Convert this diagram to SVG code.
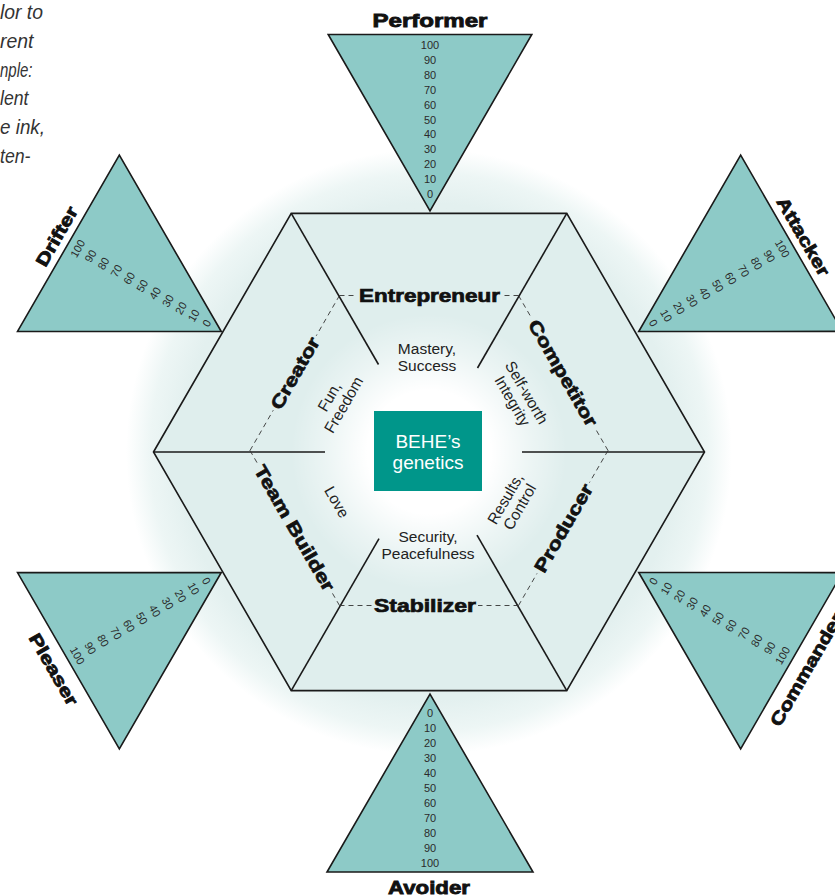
<svg xmlns="http://www.w3.org/2000/svg" width="835" height="896" viewBox="0 0 835 896">
  <defs>
    <radialGradient id="halo" cx="429" cy="452" r="303" gradientUnits="userSpaceOnUse">
      <stop offset="0" stop-color="#e1efee"/>
      <stop offset="0.82" stop-color="#e3f0ef"/>
      <stop offset="0.92" stop-color="#edf6f5"/>
      <stop offset="1" stop-color="#ffffff"/>
    </radialGradient>
    <radialGradient id="core" cx="429" cy="452" r="138" gradientUnits="userSpaceOnUse">
      <stop offset="0" stop-color="#ffffff" stop-opacity="1"/>
      <stop offset="0.45" stop-color="#ffffff" stop-opacity="1"/>
      <stop offset="0.75" stop-color="#ffffff" stop-opacity="0.4"/>
      <stop offset="1" stop-color="#ffffff" stop-opacity="0"/>
    </radialGradient>
  </defs>
  <style>
    .tri { fill:#8dcac7; stroke:#1a1a1a; stroke-width:1.6; stroke-linejoin:miter; }
    .num { font-family:"Liberation Sans", Arial, sans-serif; font-size:11px; fill:#2b2b2b; text-anchor:middle; }
    .tlabel { font-family:"Liberation Sans", Arial, sans-serif; font-weight:bold; font-size:17.5px; fill:#111; stroke:#111; stroke-width:0.8; text-anchor:middle; }
    .role { font-family:"Liberation Sans", Arial, sans-serif; font-weight:bold; font-size:18px; fill:#111; stroke:#111; stroke-width:0.7; text-anchor:middle; }
    .val { font-family:"Liberation Sans", Arial, sans-serif; font-size:15.5px; fill:#222; text-anchor:middle; }
    .edge { fill:none; stroke:#1a1a1a; stroke-width:1.6; }
    .dash { fill:none; stroke:#333; stroke-width:0.9; stroke-dasharray:5 4; }
    .note { font-family:"Liberation Sans", Arial, sans-serif; font-style:italic; font-size:19.5px; fill:#333; }
    .behe { font-family:"Liberation Sans", Arial, sans-serif; font-size:19px; fill:#ffffff; text-anchor:middle; }
  </style>

  <!-- soft halo behind the hexagon -->
  <circle cx="429" cy="452" r="303" fill="url(#halo)"/>

  <!-- side note fragments along the left edge -->
  <g id="note">
    <text class="note" x="0" y="19.3" textLength="43" lengthAdjust="spacingAndGlyphs">lor to</text>
    <text class="note" x="0" y="48" textLength="33.5" lengthAdjust="spacingAndGlyphs">rent</text>
    <text class="note" x="0" y="76.7" textLength="32.5" lengthAdjust="spacingAndGlyphs">nple:</text>
    <text class="note" x="0" y="105.4" textLength="28.5" lengthAdjust="spacingAndGlyphs">lent</text>
    <text class="note" x="0" y="134" textLength="45" lengthAdjust="spacingAndGlyphs">e ink,</text>
    <text class="note" x="0" y="162.8" textLength="30.5" lengthAdjust="spacingAndGlyphs">ten-</text>
  </g>

  <!-- hexagon body -->
  <g id="hexagon">
    <polygon points="153.5,452 291.25,213.4 566.75,213.4 704.5,452 566.75,690.6 291.25,690.6" fill="#dfeeed"/>
    <circle cx="429" cy="452" r="138" fill="url(#core)"/>
    <polygon class="edge" points="153.5,452 291.25,213.4 566.75,213.4 704.5,452 566.75,690.6 291.25,690.6"/>
  </g>

  <!-- spokes and dashed inner ring -->
  <g id="connectors">
    <line class="edge" x1="291.25" y1="213.4" x2="378.5" y2="364.5"/>
    <line class="edge" x1="566.75" y1="213.4" x2="477.5" y2="368"/>
    <line class="edge" x1="704.5" y1="452" x2="522" y2="452"/>
    <line class="edge" x1="566.75" y1="690.6" x2="477" y2="535.1"/>
    <line class="edge" x1="291.25" y1="690.6" x2="379" y2="538.6"/>
    <line class="edge" x1="153.5" y1="452" x2="325" y2="452"/>

    <line class="dash" x1="339.5" y1="295.5" x2="356.5" y2="295.5"/>
    <line class="dash" x1="518.5" y1="295.5" x2="502.5" y2="295.5"/>
    <line class="dash" x1="518.5" y1="295.5" x2="531.75" y2="318.44"/>
    <line class="dash" x1="608" y1="450.5" x2="594.75" y2="427.56"/>
    <line class="dash" x1="608" y1="450.5" x2="589.5" y2="482.54"/>
    <line class="dash" x1="518.5" y1="605.5" x2="537" y2="573.46"/>
    <line class="dash" x1="518.5" y1="605.5" x2="478" y2="605.5"/>
    <line class="dash" x1="339.5" y1="605.5" x2="372" y2="605.5"/>
    <line class="dash" x1="339.5" y1="605.5" x2="331.75" y2="592.08"/>
    <line class="dash" x1="250" y1="450.5" x2="257.75" y2="463.92"/>
    <line class="dash" x1="250" y1="450.5" x2="273.25" y2="410.24"/>
    <line class="dash" x1="339.5" y1="295.5" x2="316.25" y2="335.76"/>
  </g>

  <!-- centre -->
  <g id="behe">
    <rect x="374" y="411" width="108" height="80" fill="#00968a"/>
    <text class="behe" x="428" y="447.6">BEHE’s</text>
    <text class="behe" x="428" y="468.5">genetics</text>
  </g>

  <!-- roles on the dashed ring -->
  <g id="entrepreneur">
    <text class="role" x="429.5" y="302" textLength="141" lengthAdjust="spacingAndGlyphs">Entrepreneur</text>
    <text class="val" x="427" y="354">Mastery,</text>
    <text class="val" x="427" y="370.5">Success</text>
  </g>
  <g id="competitor">
    <text class="role" transform="translate(563.25,373) rotate(60)" y="6.5" textLength="120" lengthAdjust="spacingAndGlyphs">Competitor</text>
    <text class="val" transform="translate(519,397) rotate(60)"><tspan x="0" y="-3.5">Self-worth</tspan><tspan x="0" y="13">Integrity</tspan></text>
  </g>
  <g id="producer">
    <text class="role" transform="translate(563.25,528) rotate(-60)" y="6.5" textLength="99" lengthAdjust="spacingAndGlyphs">Producer</text>
    <text class="val" transform="translate(513,503) rotate(-60)"><tspan x="0" y="-3.5">Results,</tspan><tspan x="0" y="13">Control</tspan></text>
  </g>
  <g id="stabilizer">
    <text class="role" x="425" y="612" textLength="102" lengthAdjust="spacingAndGlyphs">Stabilizer</text>
    <text class="val" x="428" y="542">Security,</text>
    <text class="val" x="428" y="558.5">Peacefulness</text>
  </g>
  <g id="team-builder">
    <text class="role" transform="translate(294.75,528) rotate(60)" y="6.5" textLength="142" lengthAdjust="spacingAndGlyphs">Team Builder</text>
    <text class="val" transform="translate(337,502) rotate(60)" y="5.5">Love</text>
  </g>
  <g id="creator">
    <text class="role" transform="translate(294.75,373) rotate(-60)" y="6.5" textLength="80" lengthAdjust="spacingAndGlyphs">Creator</text>
    <text class="val" transform="translate(337,401) rotate(-60)"><tspan x="0" y="-3.5">Fun,</tspan><tspan x="0" y="13">Freedom</tspan></text>
  </g>

  <!-- scale triangles -->
  <g id="performer">
    <polygon class="tri" points="328.2,34.5 531.8,34.5 430,211"/>
    <text class="tlabel" x="430" y="27" textLength="115" lengthAdjust="spacingAndGlyphs">Performer</text>
    <text class="num" x="430" y="49">100</text>
    <text class="num" x="430" y="63.9">90</text>
    <text class="num" x="430" y="78.8">80</text>
    <text class="num" x="430" y="93.7">70</text>
    <text class="num" x="430" y="108.6">60</text>
    <text class="num" x="430" y="123.5">50</text>
    <text class="num" x="430" y="138.4">40</text>
    <text class="num" x="430" y="153.3">30</text>
    <text class="num" x="430" y="168.2">20</text>
    <text class="num" x="430" y="183.1">10</text>
    <text class="num" x="430" y="198">0</text>
  </g>

  <g id="drifter" transform="rotate(-60 430 452)">
    <polygon class="tri" points="328.2,34.5 531.8,34.5 430,211"/>
    <text class="tlabel" x="430" y="27" textLength="66" lengthAdjust="spacingAndGlyphs">Drifter</text>
    <text class="num" x="430" y="49">100</text>
    <text class="num" x="430" y="63.9">90</text>
    <text class="num" x="430" y="78.8">80</text>
    <text class="num" x="430" y="93.7">70</text>
    <text class="num" x="430" y="108.6">60</text>
    <text class="num" x="430" y="123.5">50</text>
    <text class="num" x="430" y="138.4">40</text>
    <text class="num" x="430" y="153.3">30</text>
    <text class="num" x="430" y="168.2">20</text>
    <text class="num" x="430" y="183.1">10</text>
    <text class="num" x="430" y="198">0</text>
  </g>

  <g id="attacker" transform="rotate(60 430 452)">
    <polygon class="tri" points="328.2,34.5 531.8,34.5 430,211"/>
    <text class="tlabel" x="430" y="27" textLength="88" lengthAdjust="spacingAndGlyphs">Attacker</text>
    <text class="num" x="430" y="49">100</text>
    <text class="num" x="430" y="63.9">90</text>
    <text class="num" x="430" y="78.8">80</text>
    <text class="num" x="430" y="93.7">70</text>
    <text class="num" x="430" y="108.6">60</text>
    <text class="num" x="430" y="123.5">50</text>
    <text class="num" x="430" y="138.4">40</text>
    <text class="num" x="430" y="153.3">30</text>
    <text class="num" x="430" y="168.2">20</text>
    <text class="num" x="430" y="183.1">10</text>
    <text class="num" x="430" y="198">0</text>
  </g>

  <g id="pleaser" transform="rotate(-120 430 452)">
    <polygon class="tri" points="328.2,34.5 531.8,34.5 430,211"/>
    <text class="tlabel" x="430" y="23.8" transform="rotate(180 430 17.5)" textLength="80" lengthAdjust="spacingAndGlyphs">Pleaser</text>
    <text class="num" x="430" y="49" transform="rotate(180 430 45)">100</text>
    <text class="num" x="430" y="63.9" transform="rotate(180 430 59.9)">90</text>
    <text class="num" x="430" y="78.8" transform="rotate(180 430 74.8)">80</text>
    <text class="num" x="430" y="93.7" transform="rotate(180 430 89.7)">70</text>
    <text class="num" x="430" y="108.6" transform="rotate(180 430 104.6)">60</text>
    <text class="num" x="430" y="123.5" transform="rotate(180 430 119.5)">50</text>
    <text class="num" x="430" y="138.4" transform="rotate(180 430 134.4)">40</text>
    <text class="num" x="430" y="153.3" transform="rotate(180 430 149.3)">30</text>
    <text class="num" x="430" y="168.2" transform="rotate(180 430 164.2)">20</text>
    <text class="num" x="430" y="183.1" transform="rotate(180 430 179.1)">10</text>
    <text class="num" x="430" y="198" transform="rotate(180 430 194)">0</text>
  </g>

  <g id="commander" transform="rotate(120 430 452)">
    <polygon class="tri" points="328.2,34.5 531.8,34.5 430,211"/>
    <text class="tlabel" x="430" y="23.8" transform="rotate(180 430 17.5)" textLength="128" lengthAdjust="spacingAndGlyphs">Commander</text>
    <text class="num" x="430" y="49" transform="rotate(180 430 45)">100</text>
    <text class="num" x="430" y="63.9" transform="rotate(180 430 59.9)">90</text>
    <text class="num" x="430" y="78.8" transform="rotate(180 430 74.8)">80</text>
    <text class="num" x="430" y="93.7" transform="rotate(180 430 89.7)">70</text>
    <text class="num" x="430" y="108.6" transform="rotate(180 430 104.6)">60</text>
    <text class="num" x="430" y="123.5" transform="rotate(180 430 119.5)">50</text>
    <text class="num" x="430" y="138.4" transform="rotate(180 430 134.4)">40</text>
    <text class="num" x="430" y="153.3" transform="rotate(180 430 149.3)">30</text>
    <text class="num" x="430" y="168.2" transform="rotate(180 430 164.2)">20</text>
    <text class="num" x="430" y="183.1" transform="rotate(180 430 179.1)">10</text>
    <text class="num" x="430" y="198" transform="rotate(180 430 194)">0</text>
  </g>

  <g id="avoider">
    <polygon class="tri" points="327,872 533,872 430,694"/>
    <text class="tlabel" x="429" y="893.5" textLength="82" lengthAdjust="spacingAndGlyphs">Avoider</text>
    <text class="num" x="430" y="717.3">0</text>
    <text class="num" x="430" y="732.3">10</text>
    <text class="num" x="430" y="747.3">20</text>
    <text class="num" x="430" y="762.3">30</text>
    <text class="num" x="430" y="777.3">40</text>
    <text class="num" x="430" y="792.3">50</text>
    <text class="num" x="430" y="807.3">60</text>
    <text class="num" x="430" y="822.3">70</text>
    <text class="num" x="430" y="837.3">80</text>
    <text class="num" x="430" y="852.3">90</text>
    <text class="num" x="430" y="867.3">100</text>
  </g>
</svg>
